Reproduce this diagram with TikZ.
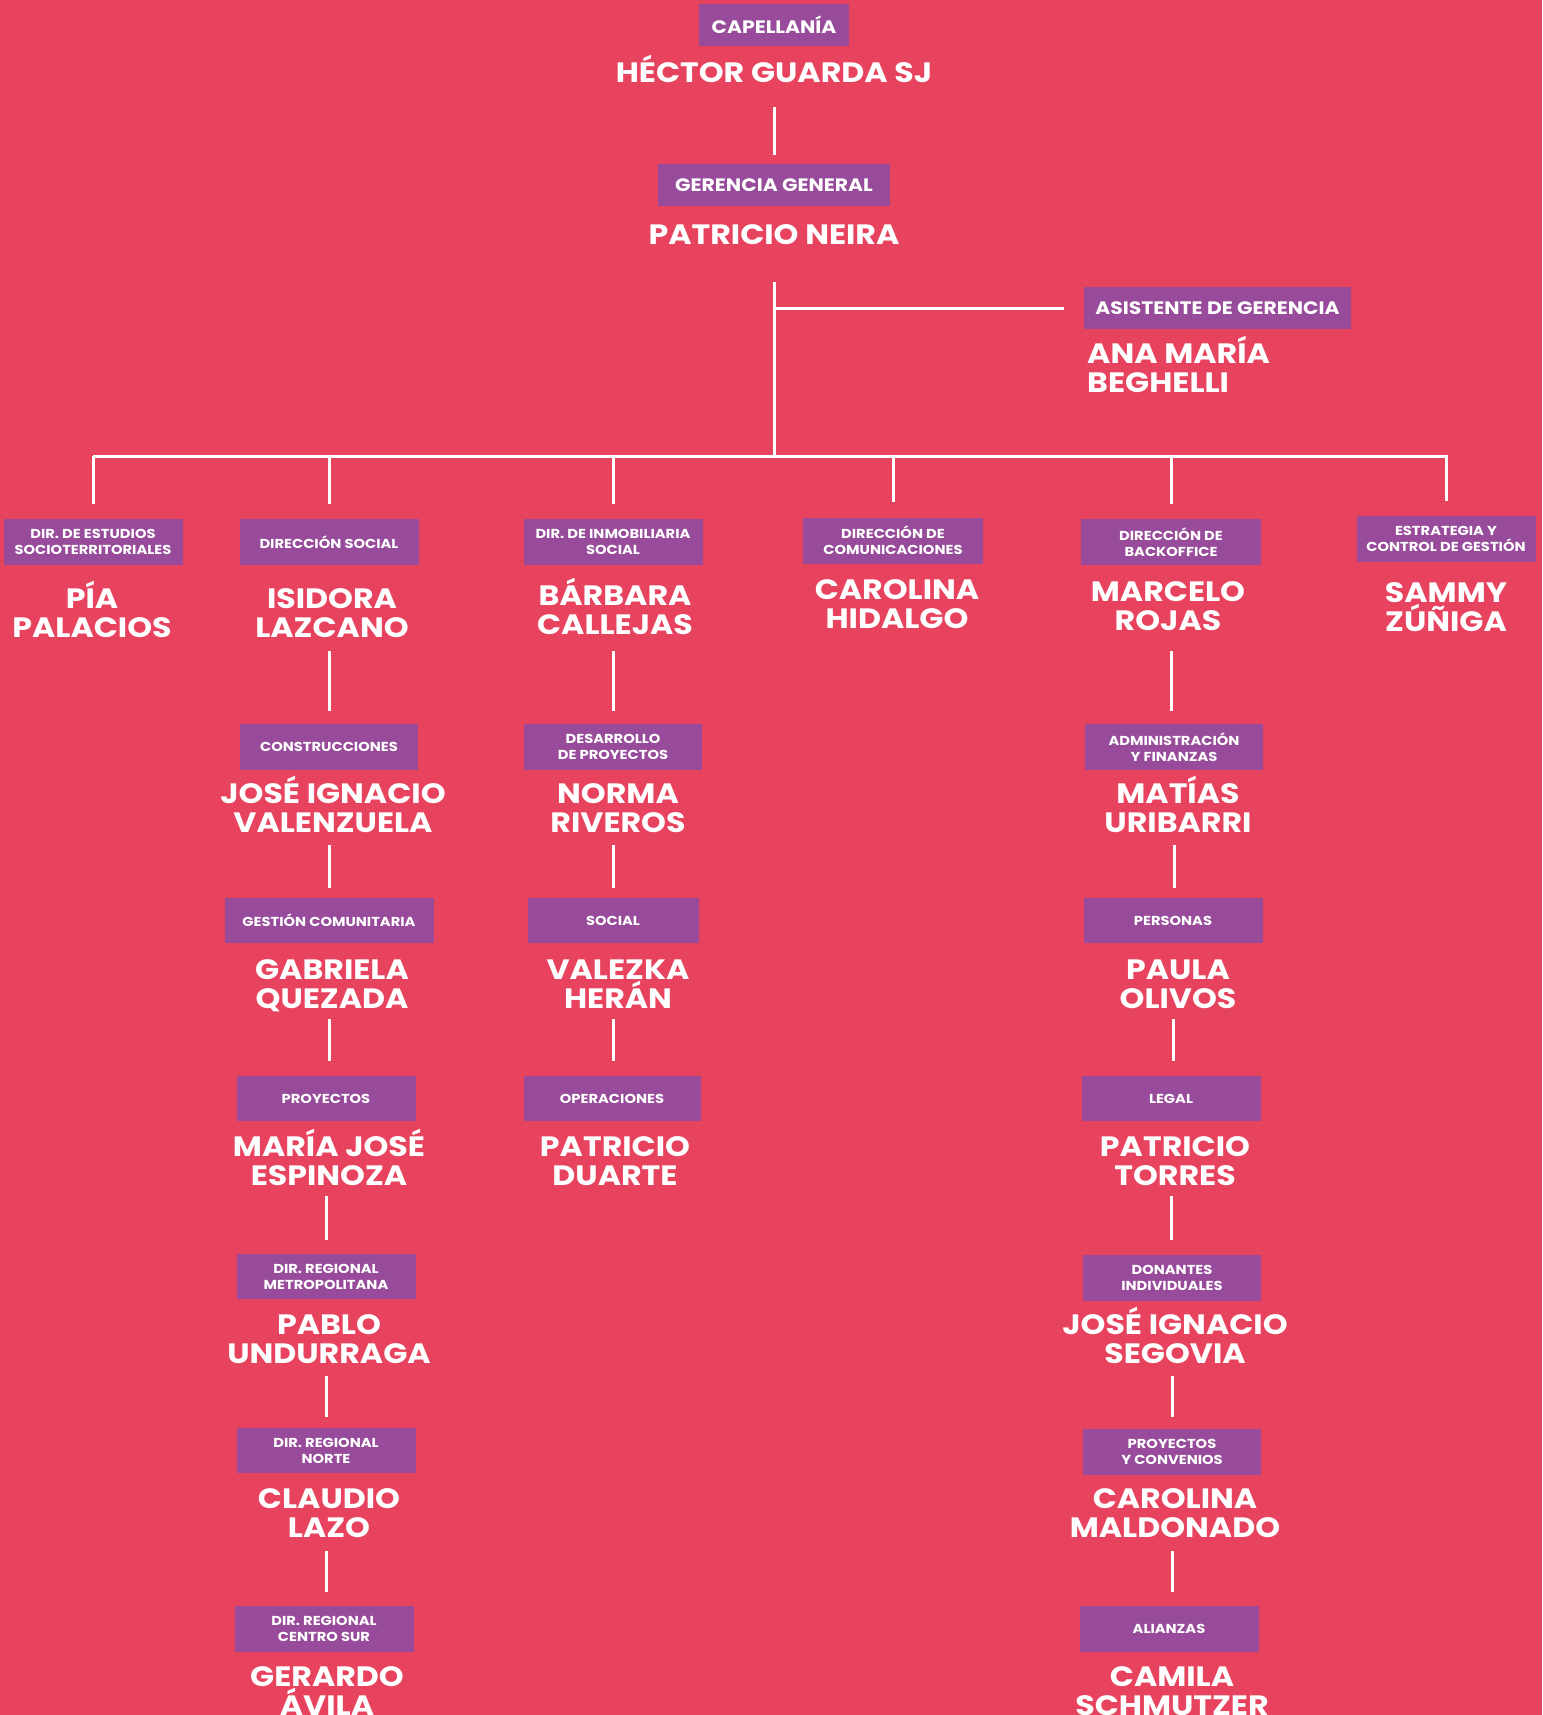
\documentclass[tikz,border=0pt]{standalone}
\usepackage{fontspec}
\setmainfont{Poppins}[FakeStretch=1.13]
\definecolor{bg}{RGB}{232,67,94}
\definecolor{pur}{RGB}{151,75,154}
\tikzset{
  box/.style={fill=pur, text=white, inner sep=0pt, align=center, font=\bfseries\fontsize{13}{16}\selectfont},
  bigbox/.style={fill=pur, text=white, inner sep=0pt, align=center, font=\bfseries\fontsize{18}{20}\selectfont},
  sz/.style 2 args={minimum width=#1pt, minimum height=#2pt},
  person/.style={text=white, inner sep=0pt, align=center, anchor=base, font=\bfseries\fontsize{28}{29}\selectfont},
  conn/.style={draw=white, line width=3pt},
}
\begin{document}
\begin{tikzpicture}[x=1pt,y=-1pt]
\useasboundingbox (0,0) rectangle (1542,1715);
\fill[bg] (0,0) rectangle (1542,1715);
\clip (0,0) rectangle (1542,1715);

% top
\node[bigbox, sz={150}{42}] (cap) at (774,25) {CAPELLANÍA};
\node[person] (hector) at (774,83) {HÉCTOR GUARDA SJ};
\node[bigbox, sz={232}{42}] (gg) at (774,185) {GERENCIA GENERAL};
\node[person] (neira) at (774,244) {PATRICIO NEIRA};
\node[bigbox, sz={267}{42}] (asis) at (1217.5,308) {ASISTENTE DE GERENCIA};
\node[person, anchor=base west, align=left] (ana) at (1087,392) {ANA MARÍA\\BEGHELLI};

\draw[conn, shorten <=61pt, shorten >=9pt] (cap.south) -- (cap.south |- gg.north);
\coordinate (bus) at (774,456);
\coordinate (busL) at (93,456);
\coordinate (busR) at (1448,456);
\draw[conn, shorten <=76pt] (gg.south) -- (bus);
\draw[conn, shorten >=20pt] (gg.south |- asis.west) -- (asis.west);
\draw[conn] (busL) -- (busR);

% level 1
\node[box, sz={179}{46}] (d1) at (93,542) {DIR. DE ESTUDIOS\\SOCIOTERRITORIALES};
\node[box, sz={179}{46}] (d2) at (329,542) {DIRECCIÓN SOCIAL};
\node[box, sz={179}{46}] (d3) at (613,542) {DIR. DE INMOBILIARIA\\SOCIAL};
\node[box, sz={180}{46}] (d4) at (893,540.5) {DIRECCIÓN DE\\COMUNICACIONES};
\node[box, sz={180}{46}] (d5) at (1171,542) {DIRECCIÓN DE\\BACKOFFICE};
\node[box, sz={179}{46}] (d6) at (1446,539) {ESTRATEGIA Y\\CONTROL DE GESTIÓN};
\foreach \d in {d1,d2,d3,d4,d5,d6}{
  \draw[conn, shorten >=15pt] (bus -| \d.north) -- (\d.north);
}
\node[person] (n1) at (92,637) {PÍA\\PALACIOS};
\node[person] (n2) at (332,637) {ISIDORA\\LAZCANO};
\node[person] (n3) at (615,634) {BÁRBARA\\CALLEJAS};
\node[person] (n4) at (897,628) {CAROLINA\\HIDALGO};
\node[person] (n5) at (1168,630) {MARCELO\\ROJAS};
\node[person] (n6) at (1446,631) {SAMMY\\ZÚÑIGA};

% column 2
\node[box, sz={178}{46}] (c21) at (329,747) {CONSTRUCCIONES};
\node[box, sz={209}{45}] (c22) at (329,920.5) {GESTIÓN COMUNITARIA};
\node[box, sz={179}{45}] (c23) at (326,1098.5) {PROYECTOS};
\node[box, sz={179}{45}] (c24) at (326,1276.5) {DIR. REGIONAL\\METROPOLITANA};
\node[box, sz={179}{45}] (c25) at (326,1450.5) {DIR. REGIONAL\\NORTE};
\node[box, sz={179}{46}] (c26) at (324,1629) {DIR. REGIONAL\\CENTRO SUR};
\node[person] (p21) at (333,832) {JOSÉ IGNACIO\\VALENZUELA};
\node[person] (p22) at (332,1008) {GABRIELA\\QUEZADA};
\node[person] (p23) at (329,1185) {MARÍA JOSÉ\\ESPINOZA};
\node[person] (p24) at (329,1363) {PABLO\\UNDURRAGA};
\node[person] (p25) at (329,1537) {CLAUDIO\\LAZO};
\node[person] (p26) at (327,1715) {GERARDO\\ÁVILA};
\draw[conn, shorten <=86pt, shorten >=13pt] (d2.south) -- (d2.south |- c21.north);
\draw[conn, shorten <=75pt, shorten >=10pt] (c21.south) -- (c21.south |- c22.north);
\draw[conn, shorten <=76pt, shorten >=15pt] (c22.south) -- (c22.south |- c23.north);
\draw[conn, shorten <=75pt, shorten >=14pt] (c23.south) -- (c23.south |- c24.north);
\draw[conn, shorten <=77pt, shorten >=11pt] (c24.south) -- (c24.south |- c25.north);
\draw[conn, shorten <=78pt, shorten >=14pt] (c25.south) -- (c25.south |- c26.north);

% column 3
\node[box, sz={178}{46}] (c31) at (613,747) {DESARROLLO\\DE PROYECTOS};
\node[box, sz={171}{45}] (c32) at (613,920.5) {SOCIAL};
\node[box, sz={177}{45}] (c33) at (612,1098.5) {OPERACIONES};
\node[person] (p31) at (618,832) {NORMA\\RIVEROS};
\node[person] (p32) at (618,1008) {VALEZKA\\HERÁN};
\node[person] (p33) at (615,1185) {PATRICIO\\DUARTE};
\draw[conn, shorten <=86pt, shorten >=13pt] (d3.south) -- (d3.south |- c31.north);
\draw[conn, shorten <=75pt, shorten >=10pt] (c31.south) -- (c31.south |- c32.north);
\draw[conn, shorten <=76pt, shorten >=15pt] (c32.south) -- (c32.south |- c33.north);

% column 5
\node[box, sz={178}{46}] (c51) at (1174,747) {ADMINISTRACIÓN\\Y FINANZAS};
\node[box, sz={179}{45}] (c52) at (1173,920.5) {PERSONAS};
\node[box, sz={179}{45}] (c53) at (1171,1098.5) {LEGAL};
\node[box, sz={178}{46}] (c54) at (1172,1278) {DONANTES\\INDIVIDUALES};
\node[box, sz={178}{46}] (c55) at (1172,1452) {PROYECTOS\\Y CONVENIOS};
\node[box, sz={179}{46}] (c56) at (1169,1629) {ALIANZAS};
\node[person] (p51) at (1178,832) {MATÍAS\\URIBARRI};
\node[person] (p52) at (1178,1008) {PAULA\\OLIVOS};
\node[person] (p53) at (1175,1185) {PATRICIO\\TORRES};
\node[person] (p54) at (1175,1363) {JOSÉ IGNACIO\\SEGOVIA};
\node[person] (p55) at (1175,1537) {CAROLINA\\MALDONADO};
\node[person] (p56) at (1172,1715) {CAMILA\\SCHMUTZER};
\draw[conn, shorten <=86pt, shorten >=13pt] (d5.south) -- (d5.south |- c51.north);
\draw[conn, shorten <=75pt, shorten >=10pt] (c51.south) -- (c51.south |- c52.north);
\draw[conn, shorten <=76pt, shorten >=15pt] (c52.south) -- (c52.south |- c53.north);
\draw[conn, shorten <=75pt, shorten >=15pt] (c53.south) -- (c53.south |- c54.north);
\draw[conn, shorten <=75pt, shorten >=12pt] (c54.south) -- (c54.south |- c55.north);
\draw[conn, shorten <=76pt, shorten >=14pt] (c55.south) -- (c55.south |- c56.north);
\end{tikzpicture}
\end{document}
